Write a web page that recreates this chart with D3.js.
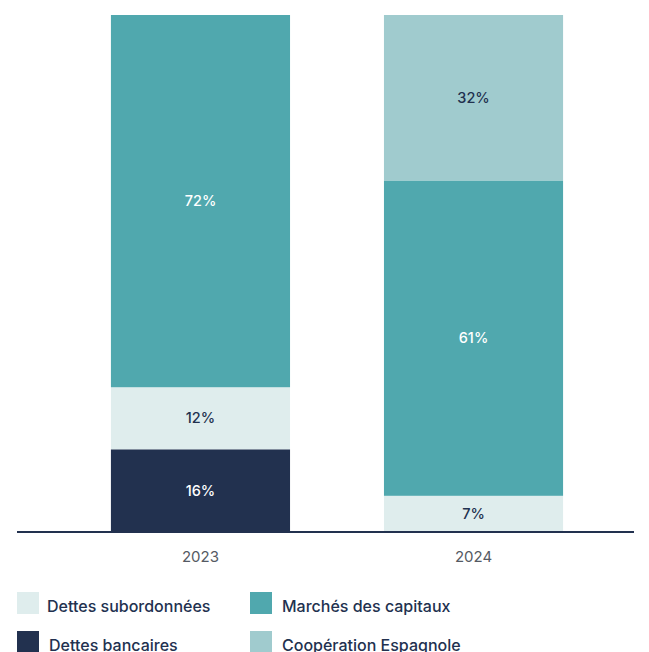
<!DOCTYPE html>
<html>
<head>
  <meta charset="utf-8">
  <script src="https://d3js.org/d3.v7.min.js"></script>
  <style>
    body { margin: 0; background: #fff; }
    svg { display: block; font-family: "Inter", "DejaVu Sans", sans-serif; }
  </style>
</head>
<body>
  <div id="chart"></div>
  <script>
    // data
    const years = ["2023", "2024"];
    const series = ["Dettes bancaires", "Dettes subordonnées", "Marchés des capitaux", "Coopération Espagnole"];
    const bancaires = [16, 0];
    const subordonnees = [12, 7];
    const marches = [72, 61];
    const cooperation = [0, 32];
    const legendOrder = ["Dettes subordonnées", "Marchés des capitaux", "Dettes bancaires", "Coopération Espagnole"];

    const colors = {
      "Dettes bancaires": "#22314f",
      "Dettes subordonnées": "#dfeded",
      "Marchés des capitaux": "#50a8ae",
      "Coopération Espagnole": "#a0cbce"
    };
    const labelColors = {
      "Dettes bancaires": "#ffffff",
      "Dettes subordonnées": "#22314f",
      "Marchés des capitaux": "#ffffff",
      "Coopération Espagnole": "#22314f"
    };

    const rows = years.map((y, i) => ({
      year: y,
      "Dettes bancaires": bancaires[i],
      "Dettes subordonnées": subordonnees[i],
      "Marchés des capitaux": marches[i],
      "Coopération Espagnole": cooperation[i]
    }));

    const width = 649, height = 652;
    const svg = d3.select("#chart").append("svg")
      .attr("width", width)
      .attr("height", height);

    const x = d3.scaleBand()
      .domain(years)
      .range([17, 657])
      .paddingInner(0.344)
      .paddingOuter(0.344);

    const y = d3.scaleLinear()
      .domain([0, 100])
      .range([532, 15]);

    const stacked = d3.stack().keys(series)(rows);

    const layers = svg.selectAll("g.layer")
      .data(stacked)
      .join("g")
      .attr("class", "layer")
      .attr("fill", d => colors[d.key]);

    layers.selectAll("rect")
      .data(d => d.filter(s => s[1] - s[0] > 0))
      .join("rect")
      .attr("x", d => x(d.data.year))
      .attr("width", x.bandwidth())
      .attr("y", d => y(d[1]))
      .attr("height", d => y(d[0]) - y(d[1]));

    // percentage labels
    stacked.forEach(layer => {
      layer.forEach(s => {
        const v = s[1] - s[0];
        if (v <= 0) return;
        svg.append("text")
          .attr("x", x(s.data.year) + x.bandwidth() / 2)
          .attr("y", y((s[0] + s[1]) / 2))
          .attr("dy", "0.35em")
          .attr("text-anchor", "middle")
          .attr("fill", labelColors[layer.key])
          .style("font-size", "14.5px")
          .style("font-weight", "500")
          .text(v + "%");
      });
    });

    // baseline
    svg.append("line")
      .attr("x1", 17).attr("x2", 634)
      .attr("y1", 532).attr("y2", 532)
      .attr("stroke", "#22314f")
      .attr("stroke-width", 2);

    // x axis labels
    const xAxis = svg.append("g")
      .attr("transform", "translate(0,533)")
      .call(d3.axisBottom(x).tickSize(0).tickPadding(18));
    xAxis.select(".domain").remove();
    xAxis.selectAll("text")
      .attr("fill", "#555a63")
      .style("font-size", "15px")
      .style("font-family", "Inter, sans-serif");

    // legend
    const legend = svg.append("g");
    const cols = [17, 250];
    legendOrder.forEach((k, i) => {
      const lx = cols[i % 2];
      const ly = 592 + Math.floor(i / 2) * 39;
      legend.append("rect")
        .attr("x", lx).attr("y", ly)
        .attr("width", 22).attr("height", 22)
        .attr("fill", colors[k]);
      legend.append("text")
        .attr("x", lx + (i % 2 ? 32 : 30) + (k === "Dettes bancaires" ? 2 : 0))
        .attr("y", ly + 14)
        .attr("dy", "0.35em")
        .attr("fill", "#22314f")
        .style("font-size", "16px")
        .style("font-weight", "500")
        .text(k);
    });
  </script>
</body>
</html>
